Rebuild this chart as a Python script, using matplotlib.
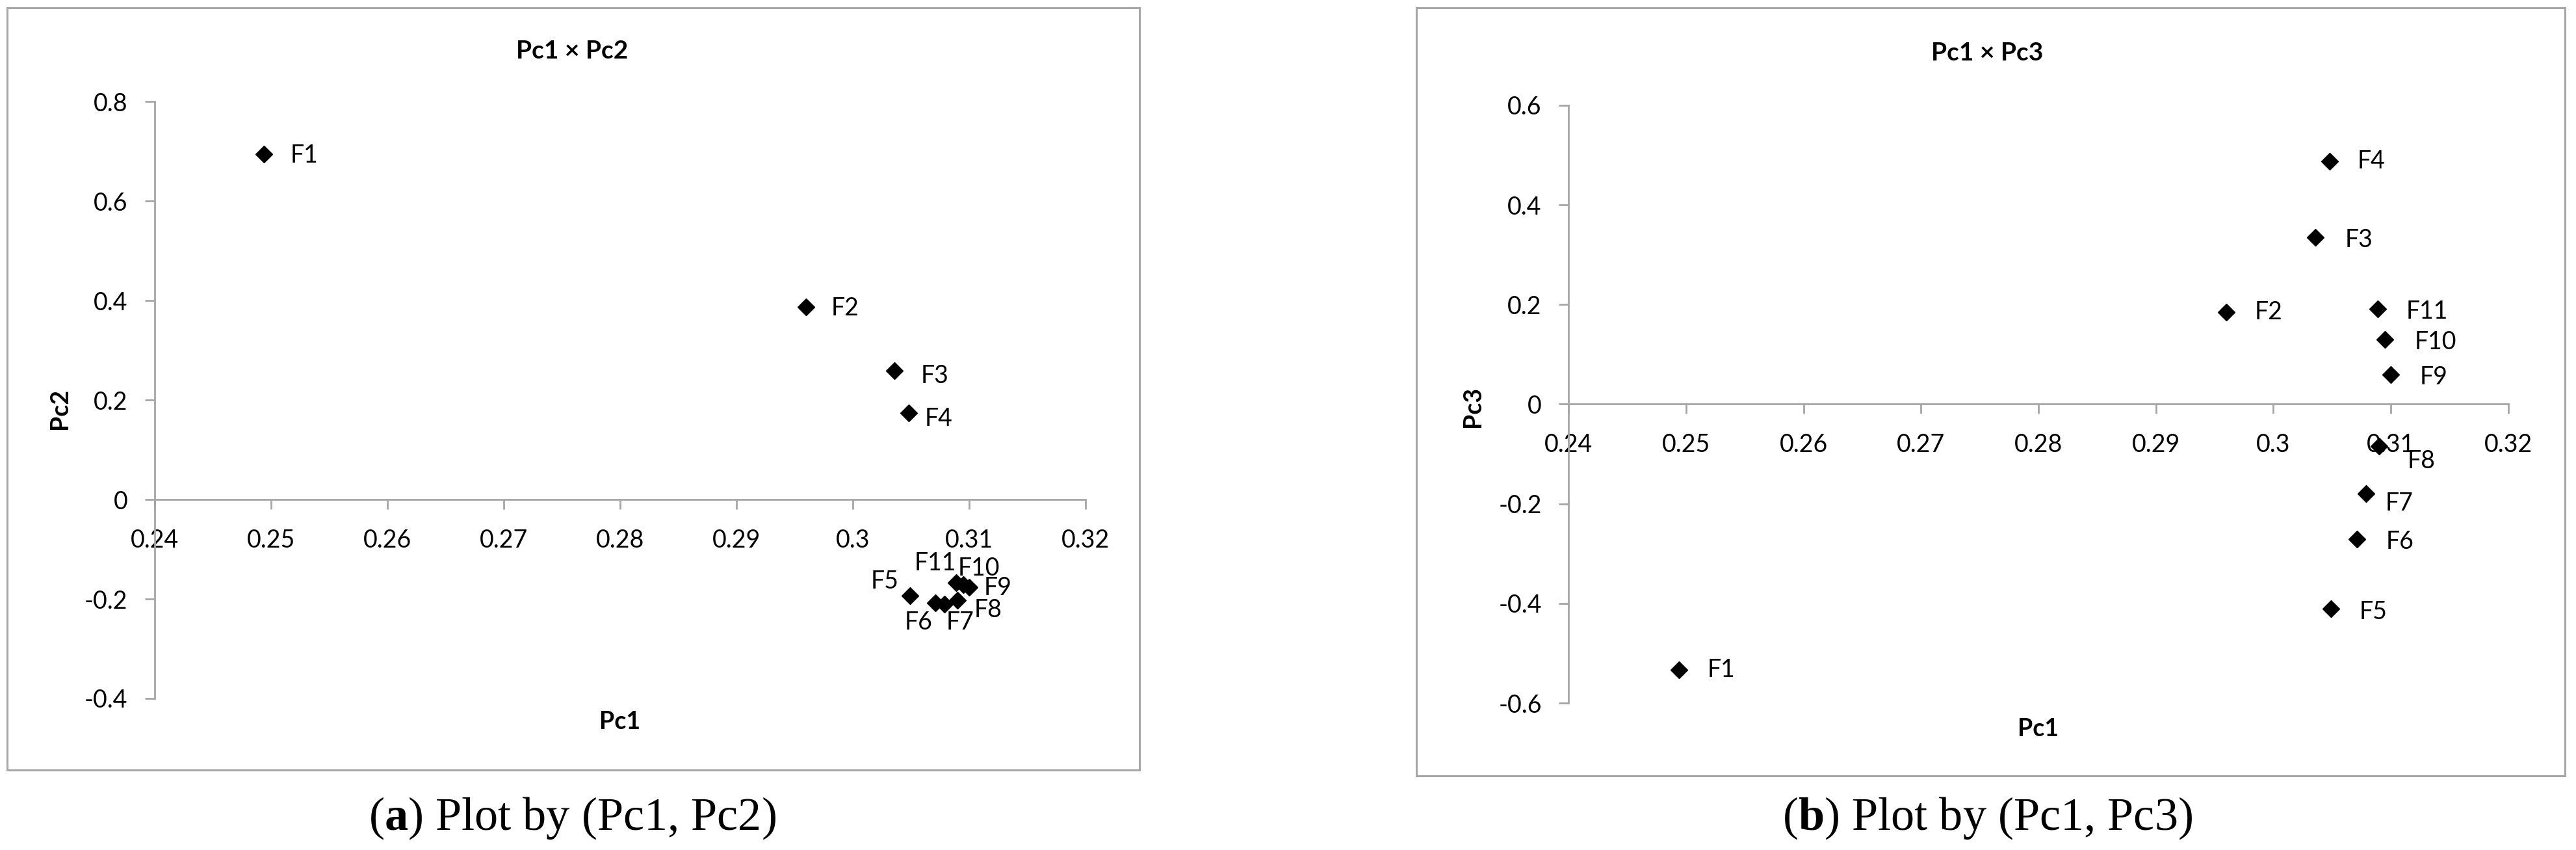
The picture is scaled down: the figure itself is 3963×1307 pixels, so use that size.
import matplotlib.pyplot as plt
from matplotlib.patches import Rectangle
from matplotlib.ticker import FuncFormatter, MultipleLocator

# values
labels = ['F1', 'F2', 'F3', 'F4', 'F5', 'F6', 'F7', 'F8', 'F9', 'F10', 'F11']
pc1 = [0.2494, 0.2960, 0.3036, 0.3048, 0.3049, 0.3071, 0.3079, 0.3090, 0.3100, 0.3095, 0.3089]
pc2 = [0.695, 0.387, 0.259, 0.174, -0.193, -0.208, -0.210, -0.202, -0.177, -0.171, -0.167]
pc3 = [-0.533, 0.185, 0.335, 0.487, -0.411, -0.271, -0.179, -0.084, 0.059, 0.130, 0.191]

# label offsets in pixels (dx, dy down) and alignment, per point
offs_a = [(40, 2, 'left'), (38, 2, 'left'), (40, 8, 'left'), (25, 9, 'left'),
          (-17, -22, 'right'), (-5, 30, 'right'), (2, 28, 'left'), (25, 15, 'left'),
          (23, 1, 'left'), (24, -25, 'center'), (-33, -30, 'center')]
offs_b = [(43, 0, 'left'), (43, 0, 'left'), (45, 4, 'left'), (42, 0, 'left'),
          (44, 5, 'left'), (45, 4, 'left'), (29, 15, 'left'), (44, 23, 'left'),
          (45, 4, 'left'), (46, 4, 'left'), (43, 4, 'left')]

grey = '#A6A6A6'
sans = ['Lato', 'DejaVu Sans']
plt.rcParams['font.family'] = sans
# bold letter in the captions comes from the serif face
plt.rcParams['mathtext.fontset'] = 'custom'
plt.rcParams['mathtext.bf'] = 'Liberation Serif:bold'
plt.rcParams['mathtext.rm'] = 'Liberation Serif'

fig = plt.figure(figsize=(39.63, 13.07), dpi=100)


def fmt(v, pos):
    return '%g' % round(v, 3)


def panel(rect, yvals, offs, ylim, title, ylabel, title_xy, ylab_xy, xlab_xy):
    ax = fig.add_axes(rect)
    ax.plot(pc1, yvals, linestyle='none', marker='D', ms=13.5, color='black', zorder=3,
            clip_on=False)
    for name, x, y, (dx, dy, ha) in zip(labels, pc1, yvals, offs):
        ax.annotate(name, (x, y), xytext=(dx, -dy), textcoords='offset pixels',
                    ha=ha, va='center', fontsize=27, zorder=4)
    ax.set_xlim(0.24, 0.32)
    ax.set_ylim(*ylim)
    ax.xaxis.set_major_locator(MultipleLocator(0.01))
    ax.yaxis.set_major_locator(MultipleLocator(0.2))
    ax.xaxis.set_major_formatter(FuncFormatter(fmt))
    ax.yaxis.set_major_formatter(FuncFormatter(fmt))
    ax.spines['top'].set_visible(False)
    ax.spines['right'].set_visible(False)
    ax.spines['bottom'].set_position(('data', 0))
    for s in ('left', 'bottom'):
        ax.spines[s].set_color(grey)
        ax.spines[s].set_linewidth(2)
    ax.tick_params(axis='both', colors=grey, labelcolor='black', labelsize=27,
                   length=11, width=2, direction='out')
    ax.tick_params(axis='x', pad=21)
    ax.tick_params(axis='y', pad=19)
    ax.patch.set_alpha(0)
    fig.text(title_xy[0], title_xy[1], title, ha='center', va='center',
             fontsize=28, fontweight='bold')
    fig.text(ylab_xy[0], ylab_xy[1], ylabel, ha='center', va='center',
             rotation=90, fontsize=27, fontweight='bold')
    fig.text(xlab_xy[0], xlab_xy[1], 'Pc1', ha='center', va='center',
             fontsize=27, fontweight='bold')
    return ax


panel([0.0601, 0.1783, 0.3613, 0.7020], pc2, offs_a, (-0.4, 0.8), 'Pc1 × Pc2', 'Pc2',
      (0.2221, 0.9396), (0.0232, 0.5195), (0.2407, 0.1507))
panel([0.6090, 0.1729, 0.3647, 0.7033], pc3, offs_b, (-0.6, 0.6), 'Pc1 × Pc3', 'Pc3',
      (0.7714, 0.9380), (0.5718, 0.5218), (0.7913, 0.1423))

# chart area frames
for x0, y0, x1, y1 in [(0.0028, 0.0941, 0.4423, 0.9908), (0.5498, 0.0872, 0.9957, 0.9908)]:
    fig.patches.append(Rectangle((x0, y0), x1 - x0, y1 - y0, transform=fig.transFigure,
                                 fill=False, edgecolor=grey, linewidth=2.2))

# sub captions
serif = ['Liberation Serif', 'DejaVu Serif']
for cx, letter, pcs in [(0.2221, 'a', 'Pc2'), (0.7716, 'b', 'Pc3')]:
    fig.text(cx, 0.024, r'($\mathbf{%s}$) Plot by (Pc1, %s)' % (letter, pcs), ha='center',
             va='baseline', fontsize=52, family=serif)

fig.savefig('out.png', dpi=100)
